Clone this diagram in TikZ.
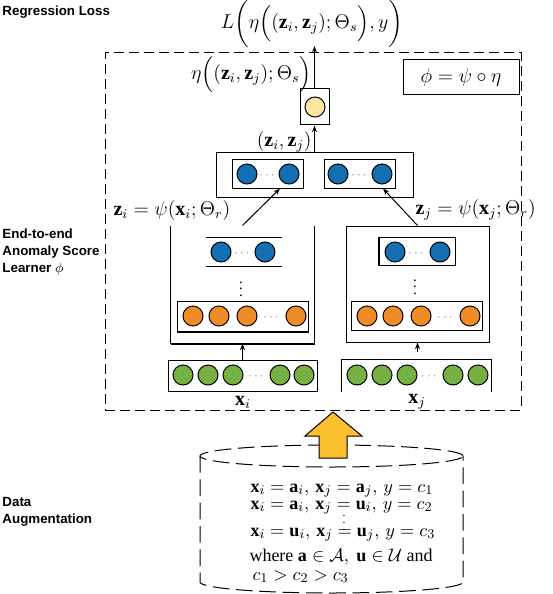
\documentclass[tikz,border=0pt]{standalone}
\usepackage{amsmath,amssymb}
\usepackage{fontspec}
\setmainfont{Liberation Serif}
\newfontfamily\labelfont{Liberation Sans}
\usepackage{xcolor}
\usepackage{tikz}
\usetikzlibrary{arrows.meta,positioning,calc}

\definecolor{zblue}{RGB}{18,112,178}
\definecolor{horange}{RGB}{240,140,38}
\definecolor{xgreen}{RGB}{118,176,66}
\definecolor{etayellow}{RGB}{253,228,160}
\definecolor{augyellow}{RGB}{251,192,48}

\begin{document}
\begin{tikzpicture}[
    x=0.6pt,
    y=-0.6pt,
    semithick,
    neuron/.style={
        circle,
        draw,
        minimum size=12pt,
        inner sep=0pt
    },
    zn/.style={neuron, fill=zblue},
    hn/.style={neuron, fill=horange},
    xn/.style={neuron, fill=xgreen},
    sn/.style={neuron, fill=etayellow},
    layer/.style={
        rectangle,
        draw,
        inner sep=0pt
    },
    frame/.style={
        rectangle,
        inner sep=0pt
    },
    hdots/.style={inner sep=0pt, font=\tiny},
    vdots/.style={inner sep=0pt, font=\small},
    mathlabel/.style={inner sep=0pt, font=\large},
    dataline/.style={anchor=base west, inner sep=0pt, font=\fontsize{10.8}{13}\selectfont},
    sidelabel/.style={
        anchor=west,
        align=left,
        inner sep=0pt,
        font=\labelfont\bfseries\fontsize{8}{10.2}\selectfont
    },
    arrow/.style={
        -{Stealth[length=4pt,width=3pt]}
    }
]

\useasboundingbox (0,0) rectangle (552,594);

\node[sidelabel] (losstitle) at (2,12) {Regression Loss};
\node[sidelabel] (learnertitle) at (2,252) {End-to-end\\Anomaly Score\\Learner $\phi$};
\node[sidelabel] (augtitle) at (2,511.5) {Data\\Augmentation};

\node[frame, draw, dash pattern=on 6pt off 3pt, minimum width=249.6pt, minimum height=214.2pt] (learner) at (313,231.5) {};
\node[layer, minimum width=69.6pt, minimum height=21pt, font=\large] (phibox) at (461,77.5) {$\phi = \psi \circ \eta$};

\node[mathlabel] (loss) at (312,24) {$L\bigg(\eta\Big((\mathbf{z}_i,\mathbf{z}_j);\Theta_s\Big),y\bigg)$};
\coordinate (losstip) at (314.5,46);

\node[layer, minimum width=17.4pt, minimum height=21.6pt] (eta) at (314.5,107) {};
\node[sn] (s) at (315,107) {};
\node[mathlabel, anchor=east] (etalab) at (312,75) {$\eta\Big((\mathbf{z}_i,\mathbf{z}_j);\Theta_s\Big)$};

\node[layer, minimum width=118.2pt, minimum height=26.4pt] (concat) at (314.5,175) {};
\node[layer, minimum width=42.6pt, minimum height=16.8pt] (zil) at (267.5,174) {};
\node[layer, minimum width=42.6pt, minimum height=16.8pt] (zjl) at (359.5,174) {};
\node[zn] (zil1) at (247,174) {};
\node[zn] (zil2) at (289,174) {};
\node[hdots] (zildots) at (268,175) {$\cdots$};
\node[zn] (zjl1) at (338,174) {};
\node[zn] (zjl2) at (382,174) {};
\node[hdots] (zjldots) at (360,175) {$\cdots$};
\node[mathlabel, anchor=east] (pairlab) at (312,142) {$(\mathbf{z}_i,\mathbf{z}_j)$};

\node[mathlabel, anchor=west] (zilab) at (113,210) {$\mathbf{z}_i = \psi(\mathbf{x}_i;\Theta_r)$};
\node[mathlabel, anchor=west] (zjlab) at (415,210) {$\mathbf{z}_j = \psi(\mathbf{x}_j;\Theta_r)$};

\node[frame, minimum width=85.8pt, minimum height=70.2pt] (psii) at (242.5,284.5) {};
\draw (psii.north west) -- (psii.south west);
\draw[line width=1.2pt] (psii.south west) -- (psii.south east);
\draw (psii.south east) -- (psii.north east);

\node[frame, minimum width=45pt, minimum height=16.8pt] (zi) at (243.5,252) {};
\draw[line width=1pt] (zi.north west) -- (zi.north east);
\draw[line width=1pt] (zi.south west) -- (zi.south east);
\node[zn] (zi1) at (221,252) {};
\node[zn] (zi2) at (265,252) {};
\node[hdots] (zidots) at (243,253) {$\cdots$};
\node[vdots] (zivdots) at (241,284) {$\vdots$};

\node[layer, minimum width=78.6pt, minimum height=18pt] (hi) at (242.5,316) {};
\draw[line width=1.2pt] (hi.south west) -- (hi.south east);
\foreach \x [count=\k] in {193,219,247,296}
    \node[hn] (hi\k) at (\x,316) {};
\node[hdots] (hidots) at (272,317) {$\cdots$};

\node[layer, minimum width=85.8pt, minimum height=69.6pt] (psij) at (417.5,284) {};
\node[layer, minimum width=45.6pt, minimum height=16.8pt] (zj) at (417,251) {};
\draw[line width=1pt] (zj.north west) -- (zj.south west);
\node[zn] (zj1) at (395,252) {};
\node[zn] (zj2) at (440,252) {};
\node[hdots] (zjdots) at (417,253) {$\cdots$};
\node[vdots] (zjvdots) at (415,282) {$\vdots$};

\node[layer, minimum width=78.6pt, minimum height=17.4pt] (hj) at (416.5,315.5) {};
\foreach \x [count=\k] in {367,393,421,470}
    \node[hn] (hj\k) at (\x,316) {};
\node[hdots] (hjdots) at (446,317) {$\cdots$};

\node[layer, minimum width=89.4pt, minimum height=18.6pt] (xi) at (242.5,376) {};
\foreach \x [count=\k] in {183,208,233,280,304}
    \node[xn] (xi\k) at (\x,375) {};
\node[hdots] (xidots) at (257,376) {$\cdots$};
\node[mathlabel] (xilab) at (243,402) {$\mathbf{x}_i$};

\node[frame, minimum width=89.4pt, minimum height=18.6pt] (xj) at (416.5,375.5) {};
\draw (xj.south west) -- (xj.north west) -- (xj.north east) -- (xj.south east);
\foreach \x [count=\k] in {357,382,407,453,478}
    \node[xn] (xj\k) at (\x,375) {};
\node[hdots] (xjdots) at (430,376) {$\cdots$};
\node[mathlabel] (xjlab) at (417,402) {$\mathbf{x}_j$};
\coordinate (xjtip) at (417.5,352);

\draw[arrow] (eta.north) -- (losstip);
\draw[arrow] (concat.north) -- (eta.south);
\draw[arrow] (psii.north) -- ([xshift=7.5pt]zil.south);
\draw[arrow] (psij.north) -- ([xshift=14.1pt]zjl.south);
\draw[arrow] (xi.north) -- (psii.south);
\draw[arrow] (xjtip) -- (psij.south);

\draw[dash pattern=on 10pt off 4pt] (331.5,456) ellipse [x radius=78.9pt, y radius=6.6pt];
\draw[dash pattern=on 10pt off 4pt] (200,456) -- (200,582)
    arc[start angle=180, end angle=360, x radius=78.9pt, y radius=6.6pt] -- (463,456);

\filldraw[fill=augyellow, draw=black] (333,412) -- (362,436) -- (347,436) -- (347,458)
    -- (319,458) -- (319,436) -- (305,436) -- cycle;

\node[dataline] (aug1) at (250,492) {$\mathbf{x}_i = \mathbf{a}_i,\, \mathbf{x}_j = \mathbf{a}_j,\, y = c_1$};
\node[dataline] (aug2) at (250,509) {$\mathbf{x}_i = \mathbf{a}_i,\, \mathbf{x}_j = \mathbf{u}_i,\, y = c_2$};
\node[vdots, font=\scriptsize] (augdots) at (344,518) {$\vdots$};
\node[dataline] (aug3) at (250,536) {$\mathbf{x}_i = \mathbf{u}_i,\, \mathbf{x}_j = \mathbf{u}_j,\, y = c_3$};
\node[dataline] (aug4) at (249,561) {where $\mathbf{a} \in \mathcal{A},\ \mathbf{u} \in \mathcal{U}$ and};
\node[dataline] (aug5) at (252,580) {$c_1 > c_2 > c_3$};

\end{tikzpicture}
\end{document}
